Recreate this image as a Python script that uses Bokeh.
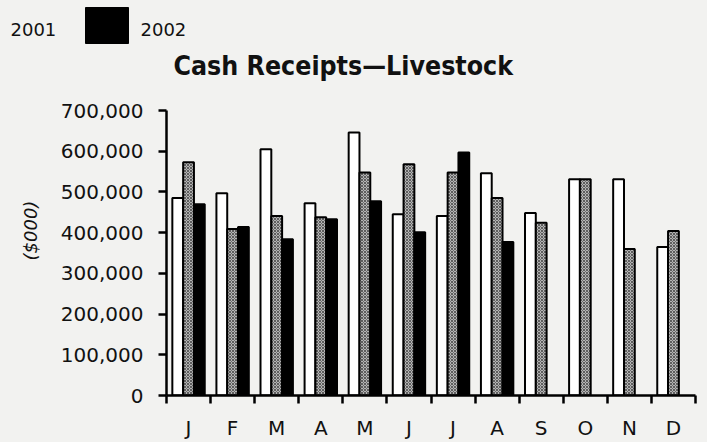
import numpy as np
from bokeh.plotting import figure
from bokeh.layouts import column
from bokeh.models import (FixedTicker, NumeralTickFormatter, Range1d, ColumnDataSource, Title)
from bokeh.core.properties import value
from bokeh.embed import file_html
from bokeh.resources import INLINE

# ---------------- data ----------------
months = ["J", "F", "M", "A", "M", "J", "J", "A", "S", "O", "N", "D"]
y2000 = [485000, 497000, 605000, 472000, 646000, 445000, 441000, 546000, 448000, 531000, 531000, 365000]
y2001 = [573000, 409000, 441000, 438000, 548000, 568000, 548000, 485000, 424000, 531000, 360000, 404000]
y2002 = [470000, 414000, 384000, 433000, 477000, 401000, 597000, 377000]
legend_labels = ["2001", "2002"]
title_text = "Cash Receipts\u2014Livestock"
y_title = "($000)"
y_ticks = [0, 100000, 200000, 300000, 400000, 500000, 600000, 700000]

# ---------------- layout ----------------
W, HTOP, HMAIN = 707, 100, 342
BG = "#f2f2f0"
INK = "#111111"
FX0, FX1, FY1, FY0 = 164, 695, 110, 396   # frame edges on the page
NCAT = len(months)
YMAX = y_ticks[-1]

# ---- header: title + legend (frame spans the whole header, y grows downward) ----
hdr = figure(width=W, height=HTOP, output_backend="svg", toolbar_location=None,
             x_range=Range1d(0, W), y_range=Range1d(HTOP, 0),
             min_border=0, min_border_left=0, min_border_right=0,
             min_border_top=0, min_border_bottom=0)
hdr.frame_align = False
hdr.axis.visible = False
hdr.grid.visible = False
hdr.outline_line_color = None
hdr.background_fill_color = BG
hdr.border_fill_color = BG

hdr.text(x=[173], y=[65], text=[title_text], text_align="left", text_baseline="alphabetic",
         text_font=value("DejaVu Sans Condensed"), text_font_style="bold",
         text_font_size="26.5px", text_color=INK)
hdr.text(x=[10, 140], y=[29, 29], text=legend_labels, text_align="left",
         text_baseline="alphabetic", text_font=value("DejaVu Sans"),
         text_font_size="18px", text_color=INK)
hdr.quad(left=[85], right=[128], top=[7], bottom=[43], fill_color="black", line_color="black")

# ---- main chart ----
p = figure(width=W, height=HMAIN, output_backend="svg", toolbar_location=None,
           x_range=Range1d(0, NCAT), y_range=Range1d(0, YMAX),
           min_border_left=FX0, min_border_right=W - FX1,
           min_border_top=FY1 - HTOP, min_border_bottom=HTOP + HMAIN - FY0)
p.frame_align = False
p.background_fill_color = BG
p.border_fill_color = BG
p.outline_line_color = None
p.grid.visible = False

centers = np.arange(NCAT) + 0.5
BW = 0.245

src0 = ColumnDataSource(dict(x=centers - BW, top=y2000))
src1 = ColumnDataSource(dict(x=centers, top=y2001))
src2 = ColumnDataSource(dict(x=centers[:len(y2002)] + BW, top=y2002))

p.vbar(x="x", top="top", bottom=0, width=BW, source=src0,
       fill_color="white", line_color="black", line_width=2)
p.vbar(x="x", top="top", bottom=0, width=BW, source=src1,
       fill_color="#b4b4b4", hatch_pattern="diagonal_cross", hatch_color="#5e5e5e",
       hatch_scale=3, hatch_weight=1, line_color="black", line_width=2)
p.vbar(x="x", top="top", bottom=0, width=BW, source=src2,
       fill_color="black", line_color="black", line_width=2)

xa = p.xaxis[0]
xa.ticker = FixedTicker(ticks=list(centers), minor_ticks=list(range(NCAT + 1)))
xa.major_label_overrides = {float(c): m for c, m in zip(centers, months)}
xa.major_tick_out = 0
xa.major_tick_in = 0
xa.minor_tick_out = 8
xa.minor_tick_in = 0
xa.minor_tick_line_width = 2.5
xa.minor_tick_line_color = "black"
xa.axis_line_width = 2.5
xa.axis_line_color = "black"
xa.major_label_text_font = "DejaVu Sans"
xa.major_label_text_font_size = "20px"
xa.major_label_text_color = INK
xa.major_label_standoff = 12

ya = p.yaxis[0]
ya.ticker = FixedTicker(ticks=y_ticks, minor_ticks=[])
ya.formatter = NumeralTickFormatter(format="0,0")
ya.major_tick_out = 8
ya.major_tick_in = 0
ya.major_tick_line_width = 2.5
ya.axis_line_width = 2.5
ya.axis_line_color = "black"
ya.major_label_text_font = "DejaVu Sans"
ya.major_label_text_font_size = "20px"
ya.major_label_text_color = INK
ya.major_label_standoff = 15

p.add_layout(Title(text=y_title, align="left", offset=FY0 - 261, standoff=34,
                   text_font="DejaVu Sans", text_font_style="italic",
                   text_font_size="18px", text_color=INK), "left")

html = file_html(column(hdr, p, spacing=0), INLINE)
html = html.replace("</head>", "<style>body{background:%s;}</style></head>" % BG, 1)
open("out.html", "w").write(html)
